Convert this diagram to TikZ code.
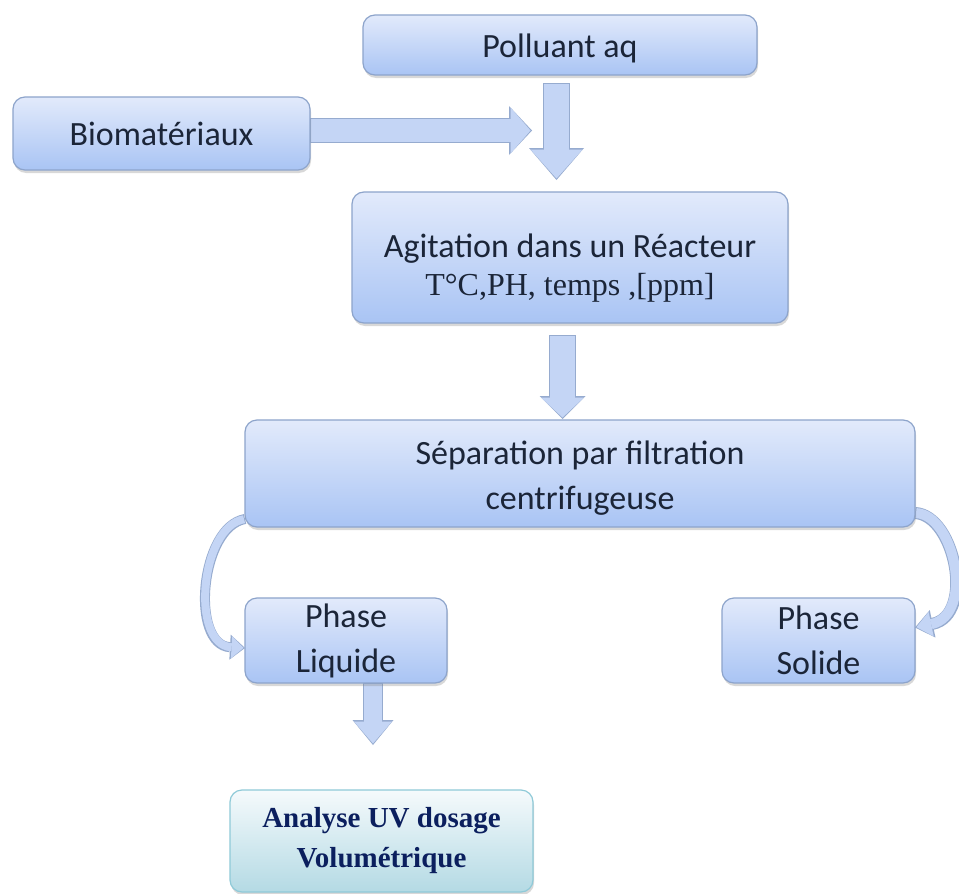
\documentclass[tikz,border=0pt]{standalone}
\usepackage{fontspec}
\setmainfont{Carlito}
\newfontfamily\timesfont{Liberation Serif}
\usetikzlibrary{arrows.meta,shadows,backgrounds}

\definecolor{boxtop}{HTML}{E2EAFB}
\definecolor{boxbot}{HTML}{A9C4F4}
\definecolor{boxline}{HTML}{8DA4CB}
\definecolor{boxtext}{HTML}{1B2538}
\definecolor{anatop}{HTML}{F5FAFC}
\definecolor{anabot}{HTML}{B4DAE4}
\definecolor{analine}{HTML}{8FCAD8}
\definecolor{anatext}{HTML}{0B1F5E}
\definecolor{arrfill}{HTML}{C4D5F5}
\definecolor{arrline}{HTML}{96ABCF}

% block arrow: shaft width, head width, head length
\tikzset{
  blockarrow/.code n args={3}{%
    \pgfmathsetlengthmacro\shaftout{#1+2pt}%
    \pgfmathsetlengthmacro\headwout{#2+3pt}%
    \pgfmathsetlengthmacro\headlout{#3+3pt}%
    \edef\arrowopts{draw=arrfill, line width=#1, shorten >=1.5pt, shorten <=1pt,
      -{Triangle[width=#2, length=#3, line width=0pt]},
      preaction={draw=arrline, line width=\shaftout, shorten >=0pt, shorten <=0pt,
        -{Triangle[width=\headwout, length=\headlout, line width=0pt]}}}%
    \expandafter\tikzset\expandafter{\arrowopts}%
  },
}

\begin{document}
\begin{tikzpicture}[x=1pt,y=-1pt,
  box/.style={draw=boxline, line width=1.2pt, rounded corners=12pt, top color=boxtop, bottom color=boxbot,
    drop shadow={shadow xshift=1pt, shadow yshift=-3pt, opacity=0.3}, text=boxtext, align=center,
    inner sep=0pt, outer sep=0pt, font=\fontsize{34}{45}\selectfont},
  anabox/.style={box, draw=analine, top color=anatop, bottom color=anabot, text=anatext,
    font=\timesfont\bfseries\fontsize{29}{40}\selectfont}]
\useasboundingbox (0,0) rectangle (959,894);

\node[box, minimum width=394pt, minimum height=60pt] (poll) at (560,45) {\rule{0pt}{30pt}Polluant aq};
\node[box, minimum width=297pt, minimum height=73pt] (bio) at (161.5,133.5) {Biomatériaux};
\node[box, minimum width=436pt, minimum height=131pt, font=\fontsize{34}{38}\selectfont] (agit) at (570,257.5)
  {\rule{0pt}{45pt}Agitation dans un Réacteur\\{\timesfont\fontsize{32}{38}\selectfont T°C,PH, temps ,[ppm]}};
\node[box, minimum width=670pt, minimum height=107pt] (sep) at (580,473.5) {\rule{0pt}{33pt}Séparation par filtration\\centrifugeuse};
\node[box, minimum width=202pt, minimum height=85pt] (liq) at (346,640.5) {Phase\\Liquide};
\node[box, minimum width=193pt, minimum height=85pt] (sol) at (818.5,640.5) {Phase\\Solide};
\node[anabox, minimum width=303pt, minimum height=102pt] (ana) at (381.5,841) {Analyse UV dosage\\Volumétrique};

\coordinate (join) at (532,130.5);

\begin{scope}[on background layer]
\fill[white] (0,0) rectangle (959,894);
\draw[blockarrow={23pt}{46pt}{20pt}] ([yshift=3pt]bio.east) -- (join);
\draw[blockarrow={25pt}{52pt}{29pt}] ([xshift=-3.5pt,yshift=-8pt]poll.south) -- ([xshift=-13.5pt,yshift=12pt]agit.north);
\draw[blockarrow={25pt}{43pt}{20pt}] ([xshift=-7.5pt,yshift=-12pt]agit.south) -- ([xshift=-17.5pt,yshift=1pt]sep.north);
\draw[blockarrow={18pt}{38pt}{22pt}] ([xshift=27pt]liq.south) -- ([xshift=-8.5pt,yshift=45pt]ana.north);
\draw[blockarrow={8pt}{22pt}{12pt}] ([yshift=8pt]sep.south west) .. controls (200,527) and (190,645) .. ([yshift=-7.5pt]liq.west);
\draw[blockarrow={10pt}{25pt}{15pt}] ([yshift=14pt]sep.south east) .. controls (955,515) and (975,615) .. ([yshift=13pt]sol.east);
\end{scope}
\end{tikzpicture}
\end{document}
